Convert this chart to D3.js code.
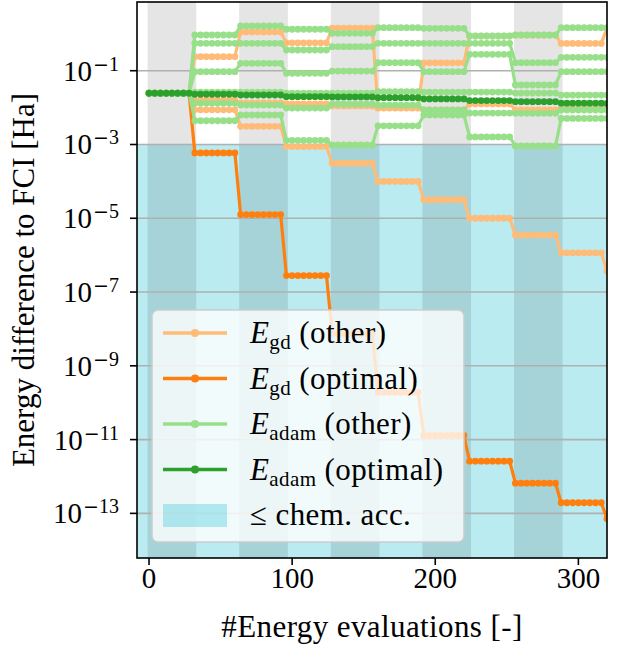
<!DOCTYPE html>
<html>
<head>
<meta charset="utf-8">
<script src="https://d3js.org/d3.v7.min.js"></script>
<style>
body { margin: 0; background: #fff; }
text { font-family: 'Liberation Serif', serif; fill: #000; }
.minus { font-family: 'DejaVu Sans', sans-serif; }
</style>
</head>
<body>
<div id="chart"></div>
<script>
// one value per optimisation step (a step = 32 energy evaluations, steps 0..10)
const stepSize = 32;
const pointEvery = 4;

const gdOptimal = [0.0245, 5.9e-4, 1.26e-5, 2.8e-7, 7.4e-9, 1.9e-10, 1.29e-11, 2.6e-12, 6.6e-13, 1.94e-13, 7.2e-14];
const gdOther = [
  [0.0245, 8.7e-3, 3.1e-3, 8.8e-4, 3.1e-4, 1.0e-4, 3.2e-5, 1.0e-5, 3.5e-6, 1.16e-6, 3.7e-7],
  [0.0245, 0.24, 1.13, 0.57, 1.43, 0.0098, 0.164, 0.87, 0.92, 0.55, 1.43],
  [0.0245, 0.0161, 0.0134, 0.0126, 0.0111, 0.0098, 0.0087, 0.0126, 0.0087, 0.0098, 0.0098]
];
const adamOptimal = [0.0245, 0.0230, 0.0220, 0.0198, 0.0195, 0.0186, 0.0172, 0.0155, 0.0145, 0.0132, 0.0130];
const adamOther = [
  [0.0245, 0.93, 1.63, 1.33, 1.03, 1.47, 1.41, 0.873, 0.93, 1.47, 1.47],
  [0.0245, 0.553, 0.553, 0.364, 0.448, 0.553, 0.553, 0.553, 0.165, 0.231, 0.231],
  [0.0245, 0.094, 0.159, 0.085, 0.098, 0.165, 0.094, 0.278, 0.041, 0.094, 0.094],
  [0.0245, 0.0264, 0.0264, 0.0248, 0.0248, 0.027, 0.0264, 0.0264, 0.0248, 0.0219, 0.0219],
  [0.0245, 0.0131, 0.0117, 0.0097, 0.0125, 0.0117, 0.0086, 0.0071, 0.0070, 0.0086, 0.0086],
  [0.0245, 0.0044, 0.0063, 0.0013, 0.00097, 0.0032, 0.0063, 0.0016, 0.00091, 0.0051, 0.0051]
];

const chemAcc = 1e-3;
const bandStarts = [0, 64, 128, 192, 256];
const xTicks = [0, 100, 200, 300];
const yTickExp = [-1, -3, -5, -7, -9, -11, -13];

const colors = {gdOther: '#ffbb78', gdOpt: '#ff7f0e', adamOther: '#98df8a', adamOpt: '#2ca02c', chem: '#17becf'};

const W = 617, H = 650;
const plot = {left: 137, top: 2, right: 607, bottom: 558};

const x = d3.scaleLinear().domain([-8.4, 320]).range([plot.left, plot.right]);
const y = d3.scaleLog().domain([Math.pow(10, -14.21), Math.pow(10, 0.863)]).range([plot.bottom, plot.top]);

const svg = d3.select('#chart').append('svg').attr('width', W).attr('height', H);

svg.append('clipPath').attr('id', 'clip')
  .append('rect')
  .attr('x', plot.left).attr('y', plot.top)
  .attr('width', plot.right - plot.left).attr('height', plot.bottom - plot.top);

const g = svg.append('g').attr('clip-path', 'url(#clip)');

// chemical accuracy region
g.append('rect')
  .attr('x', plot.left).attr('width', plot.right - plot.left)
  .attr('y', y(chemAcc)).attr('height', plot.bottom - y(chemAcc))
  .attr('fill', colors.chem).attr('fill-opacity', 0.3);

// shaded step bands
g.selectAll('.band').data(bandStarts).enter().append('rect')
  .attr('class', 'band')
  .attr('x', d => x(d - 1))
  .attr('width', d => x(d + stepSize + 1) - x(d - 1))
  .attr('y', plot.top).attr('height', plot.bottom - plot.top)
  .attr('fill', '#000').attr('fill-opacity', 0.1);

// grid
g.selectAll('.grid').data(yTickExp).enter().append('line')
  .attr('x1', plot.left).attr('x2', plot.right)
  .attr('y1', d => y(Math.pow(10, d))).attr('y2', d => y(Math.pow(10, d)))
  .attr('stroke', '#b0b0b0').attr('stroke-width', 1.6);

function toPoints(steps) {
  const pts = [];
  steps.forEach((v, k) => {
    for (let j = 0; j < stepSize / pointEvery; j++) pts.push([k * stepSize + j * pointEvery, v]);
  });
  return pts;
}

const line = d3.line().x(d => x(d[0])).y(d => y(d[1]));

function drawSeries(steps, color) {
  const pts = toPoints(steps);
  const s = g.append('g');
  s.append('path').datum(pts)
    .attr('d', line).attr('fill', 'none')
    .attr('stroke', color).attr('stroke-width', 3.2).attr('stroke-linejoin', 'round');
  s.selectAll('circle').data(pts).enter().append('circle')
    .attr('cx', d => x(d[0])).attr('cy', d => y(d[1])).attr('r', 3.4)
    .attr('fill', color);
}

gdOther.forEach(s => drawSeries(s, colors.gdOther));
drawSeries(gdOptimal, colors.gdOpt);
adamOther.forEach(s => drawSeries(s, colors.adamOther));
drawSeries(adamOptimal, colors.adamOpt);

// frame
svg.append('rect')
  .attr('x', plot.left).attr('y', plot.top)
  .attr('width', plot.right - plot.left).attr('height', plot.bottom - plot.top)
  .attr('fill', 'none').attr('stroke', '#000').attr('stroke-width', 1.6);

// x axis
const xa = svg.append('g');
xa.selectAll('line').data(xTicks).enter().append('line')
  .attr('x1', d => x(d)).attr('x2', d => x(d))
  .attr('y1', plot.bottom).attr('y2', plot.bottom + 7)
  .attr('stroke', '#000').attr('stroke-width', 1.6);
xa.selectAll('text').data(xTicks).enter().append('text')
  .attr('x', d => x(d)).attr('y', 588)
  .attr('text-anchor', 'middle').attr('font-size', 29)
  .text(d => d);
svg.append('text')
  .attr('x', (plot.left + plot.right) / 2).attr('y', 637)
  .attr('text-anchor', 'middle').attr('font-size', 31).attr('letter-spacing', 0.4)
  .text('#Energy evaluations [-]');

// y axis
const ya = svg.append('g');
ya.selectAll('line').data(yTickExp).enter().append('line')
  .attr('x1', plot.left - 7).attr('x2', plot.left)
  .attr('y1', d => y(Math.pow(10, d))).attr('y2', d => y(Math.pow(10, d)))
  .attr('stroke', '#000').attr('stroke-width', 1.6);
const yl = ya.selectAll('text').data(yTickExp).enter().append('text')
  .attr('x', 119).attr('y', d => y(Math.pow(10, d)) + 10)
  .attr('text-anchor', 'end').attr('font-size', 29);
yl.append('tspan').text('10');
yl.append('tspan').attr('class', 'minus').attr('font-size', 19).attr('dy', -10).attr('dx', 1).text('\u2212');
yl.append('tspan').attr('font-size', 20).text(d => -d);

svg.append('text')
  .attr('transform', 'translate(34,' + (plot.top + plot.bottom) / 2 + ') rotate(-90)')
  .attr('text-anchor', 'middle').attr('font-size', 31)
  .text('Energy difference to FCI [Ha]');

// legend
const legendItems = [
  {sub: 'gd', label: ' (other)', color: colors.gdOther},
  {sub: 'gd', label: ' (optimal)', color: colors.gdOpt},
  {sub: 'adam', label: ' (other)', color: colors.adamOther},
  {sub: 'adam', label: ' (optimal)', color: colors.adamOpt},
  {patch: true, label: '\u2264 chem. acc.', color: colors.chem}
];
const lg = svg.append('g');
lg.append('rect')
  .attr('x', 152).attr('y', 310).attr('width', 312).attr('height', 232).attr('rx', 6)
  .attr('fill', '#fff').attr('fill-opacity', 0.8)
  .attr('stroke', '#ccc').attr('stroke-width', 1.5);
legendItems.forEach((it, i) => {
  const cy = 333 + i * 45.5;
  if (it.patch) {
    lg.append('rect').attr('x', 163).attr('y', cy - 11).attr('width', 64).attr('height', 23)
      .attr('fill', it.color).attr('fill-opacity', 0.3);
  } else {
    lg.append('line').attr('x1', 163).attr('x2', 227).attr('y1', cy).attr('y2', cy)
      .attr('stroke', it.color).attr('stroke-width', 3.5);
    lg.append('circle').attr('cx', 195).attr('cy', cy).attr('r', 4).attr('fill', it.color);
  }
  const t = lg.append('text').attr('x', 250).attr('y', cy + 10).attr('font-size', 31)
    .attr('letter-spacing', 0.4);
  if (it.patch) {
    t.text(it.label);
  } else {
    t.append('tspan').attr('font-style', 'italic').text('E');
    t.append('tspan').attr('font-size', 21).attr('dy', 6).text(it.sub);
    t.append('tspan').attr('dy', -6).text(it.label);
  }
});
</script>
</body>
</html>
